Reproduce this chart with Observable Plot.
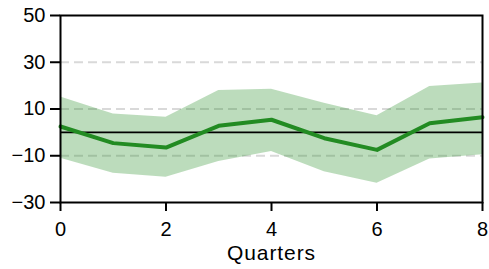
<!DOCTYPE html>
<html>
<head>
<meta charset="utf-8">
<script src="https://cdn.jsdelivr.net/npm/d3@7"></script>
<script src="https://cdn.jsdelivr.net/npm/@observablehq/plot@0.6"></script>
<style>
  html, body { margin: 0; padding: 0; background: #fff; }
  #chart svg { display: block; }
  #chart svg [aria-label$="tick label"] { font-size: 20px; }
  #chart svg [aria-label$="axis label"] { font-size: 21px; letter-spacing: 0.9px; }
</style>
</head>
<body>
<div id="chart"></div>
<script>
const quarters = [0, 1, 2, 3, 4, 5, 6, 7, 8];
const median = [2.5, -4.6, -6.5, 2.8, 5.4, -2.5, -7.5, 3.9, 6.5];
const upper = [15.1, 7.9, 6.5, 17.9, 18.5, 12.5, 7.1, 19.6, 21.1];
const lower = [-11.1, -17.5, -19.2, -12.5, -8.2, -16.8, -21.8, -11.4, -9.6];
const xTicks = [0, 2, 4, 6, 8];
const yTicks = [-30, -10, 10, 30, 50];
const gridLevels = [-10, 10, 30];

const data = quarters.map((q, i) => ({q, mid: median[i], hi: upper[i], lo: lower[i]}));

const chart = Plot.plot({
  width: 489,
  height: 269,
  marginLeft: 60,
  marginRight: 7,
  marginTop: 15,
  marginBottom: 67,
  style: {fontFamily: "'Liberation Sans', Arial, sans-serif", color: "black", background: "white"},
  x: {domain: [0, 8]},
  y: {domain: [-30, 50]},
  marks: [
    Plot.ruleY(gridLevels, {stroke: "#d9d9d9", strokeWidth: 2, strokeDasharray: "9,5"}),
    Plot.areaY(data, {x: "q", y1: "lo", y2: "hi", fill: "#228b22", fillOpacity: 0.3}),
    Plot.ruleY([0], {stroke: "black", strokeWidth: 1.6}),
    Plot.lineY(data, {x: "q", y: "mid", stroke: "#228b22", strokeWidth: 4}),
    Plot.frame({stroke: "black", strokeWidth: 2}),
    Plot.axisY(yTicks, {tickSize: 10, tickPadding: 5, strokeWidth: 2, label: null}),
    Plot.axisX(xTicks, {tickSize: 9, tickPadding: 10, strokeWidth: 2, label: "Quarters", labelAnchor: "center", labelArrow: "none", labelOffset: 57})
  ]
});
document.getElementById("chart").appendChild(chart);
</script>
</body>
</html>
